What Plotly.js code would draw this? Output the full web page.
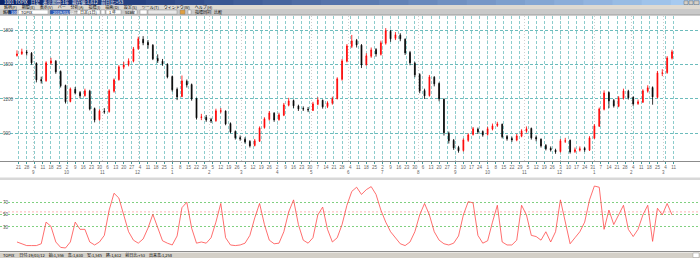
<!DOCTYPE html>
<html><head><meta charset="utf-8">
<script src="https://cdn.plot.ly/plotly-3.0.1.min.js"></script>
<style>html,body{margin:0;padding:0;background:#fff;overflow:hidden}#chart{width:700px;height:258px}</style>
</head><body><div id="chart"></div>
<script>
// ---- data (one bar = 3 trading days) ----
const openP = [1580,1596,1610,1600,1512,1370,1360,1514,1530,1440,
1318,1178,1284,1256,1230,1268,1116,1020,1092,1090,
1268,1370,1478,1500,1530,1640,1722,1694,1670,1555,
1530,1504,1396,1284,1222,1354,1326,1204,1038,1040,
1020,1010,1092,1094,985,915,862,848,828,794,
830,950,1022,1075,1020,1058,1145,1186,1138,1116,
1110,1100,1154,1188,1134,1162,1204,1372,1530,1660,
1712,1670,1502,1574,1632,1590,1688,1792,1730,1758,
1722,1606,1512,1414,1274,1230,1390,1335,1198,900,
838,776,750,838,890,936,915,890,936,968,
978,872,854,840,874,918,942,864,848,794,
768,752,740,830,838,740,752,768,752,856,
962,1110,1256,1186,1136,1206,1268,1214,1160,1172,
1268,1300,1214,1424,1432,1556];
const highP = [1625,1640,1630,1610,1520,1395,1530,1560,1540,1450,
1325,1300,1305,1270,1290,1280,1125,1110,1120,1285,
1380,1495,1525,1555,1655,1745,1750,1715,1680,1590,
1550,1512,1405,1300,1405,1370,1335,1212,1070,1060,
1035,1115,1120,1100,995,925,880,865,840,850,
960,1040,1095,1085,1080,1165,1210,1195,1150,1135,
1130,1175,1215,1195,1180,1220,1390,1550,1680,1760,
1725,1680,1600,1650,1645,1710,1820,1805,1785,1775,
1730,1620,1525,1425,1290,1410,1400,1345,1205,915,
850,790,855,900,955,950,925,955,985,1000,
985,885,870,895,935,960,950,880,855,805,
785,765,850,860,845,775,785,780,875,980,
1125,1275,1265,1200,1225,1290,1280,1222,1195,1285,
1320,1310,1445,1460,1575,1630];
const lowP = [1570,1585,1580,1500,1345,1335,1350,1500,1420,1300,
1160,1170,1240,1205,1220,1100,995,1010,1070,1080,
1255,1360,1460,1485,1520,1630,1670,1640,1540,1515,
1490,1380,1265,1190,1215,1300,1185,1020,1015,1000,
990,1000,1075,970,900,845,835,810,775,785,
825,940,1010,1000,1010,1050,1135,1120,1095,1095,
1085,1095,1145,1115,1120,1150,1195,1360,1520,1645,
1650,1470,1490,1560,1570,1580,1675,1700,1715,1705,
1585,1495,1390,1250,1200,1220,1310,1180,880,810,
755,730,740,825,880,895,870,880,925,955,
855,835,825,830,865,905,845,830,775,750,
740,720,732,815,722,728,740,738,745,850,
955,1100,1120,1125,1128,1195,1195,1140,1148,1165,
1255,1150,1205,1400,1420,1545];
const closeP = [1594,1612,1603,1516,1367,1358,1516,1533,1437,1315,
1175,1288,1253,1227,1271,1113,1017,1096,1087,1271,
1367,1481,1498,1533,1638,1726,1691,1673,1551,1533,
1507,1393,1280,1218,1358,1323,1201,1035,1043,1017,
1008,1096,1096,982,912,860,851,825,790,834,
947,1026,1078,1017,1061,1148,1183,1140,1113,1113,
1104,1157,1192,1131,1166,1201,1376,1533,1664,1708,
1673,1498,1577,1629,1594,1691,1796,1726,1761,1726,
1603,1516,1411,1271,1227,1393,1332,1201,904,834,
772,746,842,886,939,912,886,939,965,982,
869,851,842,877,921,939,860,851,790,764,
755,737,834,834,737,755,764,755,860,965,
1113,1253,1183,1140,1210,1271,1210,1157,1175,1271,
1297,1218,1428,1428,1559,1612];
const indicator = [5,2,-1,-1,-1,2,38,31,5,-4,
-5,5,38,26,26,5,0,5,16,58,
86,78,50,22,8,3,10,28,51,28,
7,3,0,15,62,71,28,3,5,3,
12,38,69,12,0,-1,0,3,16,45,
69,34,8,2,3,22,55,75,34,8,
3,12,50,63,26,5,12,34,66,89,
96,84,92,97,84,58,38,22,12,2,
-1,5,22,50,69,50,22,8,2,0,
3,15,50,72,70,16,3,7,38,66,
5,0,0,8,66,50,16,14,8,22,
5,22,75,38,2,12,22,38,75,98,
96,26,58,34,51,66,26,14,26,50,
66,6,61,50,69,50];
const priceTicks = [900,1200,1500,1800];
const indTicks = [30,50,70];
const indRefLevel = [55];
const START = [2017,7,18];       // first trading day (UTC y, m0, d)
const DAYS_PER_BAR = 3;

// ---- trading calendar for axis labels ----
const days=[]; {let d=new Date(Date.UTC(START[0],START[1],START[2]));
 while(days.length<closeP.length*DAYS_PER_BAR){const wd=d.getUTCDay(); if(wd!==0&&wd!==6) days.push(new Date(d)); d.setUTCDate(d.getUTCDate()+1);}}
const weekVals=[],weekText=[],monthVals=[],monthText=[];
days.forEach((d,k)=>{
  if(k>0 && d.getUTCDay()<days[k-1].getUTCDay()){weekVals.push(k/DAYS_PER_BAR);weekText.push(String(d.getUTCDate()));}
  if(k>0 && d.getUTCMonth()!==days[k-1].getUTCMonth()){monthVals.push(k/DAYS_PER_BAR);monthText.push(String(d.getUTCMonth()+1));}
});
const xs = closeP.map((_,i)=>i);

const H=258,W=700;
const py=v=>1-v/H, px=v=>v/W;
const shapes=[], ann=[];
const c0=[10,36,106], c1=[166,202,240];
for(let k=0;k<24;k++){const t=k/23;const c=c0.map((a,j)=>Math.round(a+(c1[j]-a)*t));
 shapes.push({type:'rect',xref:'paper',yref:'paper',x0:k/24,x1:(k+1)/24+0.002,y0:py(5),y1:1,fillcolor:`rgb(${c})`,line:{width:0},layer:'above'});}
[[684,688],[689,693],[694,699]].forEach(b=>shapes.push({type:'rect',xref:'paper',yref:'paper',x0:px(b[0]),x1:px(b[1]),y0:py(4.5),y1:py(0.8),fillcolor:'#d4d0c8',line:{color:'#555',width:0.4}}));
shapes.push({type:'rect',xref:'paper',yref:'paper',x0:0,x1:1,y0:py(9),y1:py(5),fillcolor:'#dedad2',line:{width:0}});
shapes.push({type:'rect',xref:'paper',yref:'paper',x0:0,x1:1,y0:py(15),y1:py(9),fillcolor:'#c9c9c9',line:{width:0}});
shapes.push({type:'line',xref:'paper',yref:'paper',x0:0,x1:1,y0:py(15),y1:py(15),line:{color:'#9a9a9a',width:1}});
const boxes=[[8.5,17,'#2d5bb8'],[18.5,48,'#ffffff'],[50,70,'#2d5bb8'],[77,100,'#ffffff'],[101,105,'#ffffff'],[106,121,'#ffffff'],[133,137,'#ffffff'],[140,147,'#ffffff'],[148,177,'#e8e8e8'],[180,185,'#e0a040'],[188,191,'#ffffff'],[207,211,'#ffffff']];
boxes.forEach(b=>shapes.push({type:'rect',xref:'paper',yref:'paper',x0:px(b[0]),x1:px(b[1]),y0:py(14.2),y1:py(10),fillcolor:b[2],line:{color:'#7a7a7a',width:0.4}}));
shapes.push({type:'rect',xref:'paper',yref:'paper',x0:0,x1:1,y0:py(180),y1:py(177.5),fillcolor:'#d8d8d8',line:{width:0}});
shapes.push({type:'rect',xref:'paper',yref:'paper',x0:0,x1:1,y0:0,y1:py(252.5),fillcolor:'#d4d0c8',line:{width:0}});
shapes.push({type:'rect',xref:'paper',yref:'paper',x0:px(693),x1:px(699),y0:py(257.5),y1:py(253),fillcolor:'#ffffff',line:{color:'#888',width:0.4}});
shapes.push({type:'line',xref:'paper',yref:'y2',x0:0,x1:1,y0:indRefLevel[0],y1:indRefLevel[0],line:{color:'#ffb4b4',width:1,dash:'2px,2px'},layer:'below'});

const cj='Noto Sans CJK JP, sans-serif';
const T=(x,y,text,col,size,anchor)=>ann.push({xref:'paper',yref:'paper',x:px(x),y:py(y),text,showarrow:false,xanchor:anchor||'left',yanchor:'middle',font:{family:cj,size:size||4.5,color:col||'#000'}});
T(2,2.6,'1001 TOPIX   日足   表示期間:1年   現在値:1,612   前日比:+53','#ffffff',4.5);
T(2,7,'銘柄(F)　 期間(E)　 表示(V)　 バー　 分析(A)　 指標(I)　 描画(D)　 設定(S)　 ツール(T)　 ウィンドウ(W)　 ヘルプ(H)','#000',4);
T(0.5,12.2,'銘柄','#000',4); T(9,12.2,'1001','#fff',4); T(19,12.2,'TOPIX','#000',4);
T(51,12.2,'2019/03/12','#fff',4); T(72,12.2,'─','#000',4); T(78,12.2,'日足(1日)','#000',4);
T(107,12.2,'1 年','#000',4); T(123,12.2,'Scale','#000',4); T(192.5,12.2,'指標同期','#000',4); T(212,12.2,'比較','#000',4);
T(1,255.3,'TOPIX　 日付:19/03/12　始:1,556　高:1,630　安:1,545　終:1,612　前日比:+53　出来高:1,258','#000',4);
monthVals.forEach((v,k)=>ann.push({xref:'x',yref:'paper',x:v,y:py(172),text:monthText[k],showarrow:false,xanchor:'center',yanchor:'middle',font:{family:'Liberation Sans, Arial, sans-serif',size:4.5,color:'#666'}}));

const traces=[
 {type:'candlestick',x:xs,open:openP,high:highP,low:lowP,close:closeP,xaxis:'x',yaxis:'y',
  increasing:{line:{color:'#ff0000',width:0.8},fillcolor:'#ff0000'},
  decreasing:{line:{color:'#000000',width:0.8},fillcolor:'#000000'},whiskerwidth:0,hoverinfo:'skip'},
 {type:'scatter',mode:'lines',x:xs,y:indicator,xaxis:'x2',yaxis:'y2',line:{color:'#ff4a4a',width:0.8},hoverinfo:'skip'}
];
const layout={width:W,height:H,margin:{l:0,r:0,t:0,b:0},paper_bgcolor:'#ffffff',plot_bgcolor:'#ffffff',showlegend:false,boxgap:0.75,
 font:{family:'Liberation Sans, Arial, sans-serif',size:5,color:'#444'},
 xaxis:{domain:[0,1],anchor:'y',range:[-3.5,140.77],rangeslider:{visible:false},tickmode:'array',tickvals:weekVals,ticktext:weekText,
   ticks:'outside',ticklen:2,tickcolor:'#3aa0a0',tickfont:{size:4.5,color:'#666'},showgrid:true,gridcolor:'#8ccccc',griddash:'3px,2px',gridwidth:1,
   showline:true,linecolor:'#8c8c8c',linewidth:1,zeroline:false,
   minor:{tickmode:'array',tickvals:monthVals,showgrid:true,gridcolor:'#d0d0d0',griddash:'1px,2px',gridwidth:1,ticks:''}},
 yaxis:{domain:[py(160.7),py(15.5)],anchor:'x',range:[660,1930],tickmode:'array',tickvals:priceTicks,ticktext:priceTicks.map(String),ticklabelposition:'inside',
   ticks:'',tickfont:{size:4.5,color:'#555'},showgrid:true,gridcolor:'#6cbcbc',griddash:'3px,2px',gridwidth:1,zeroline:false,showline:false},
 xaxis2:{domain:[0,1],anchor:'y2',matches:'x',showticklabels:false,ticks:'',showgrid:false,showline:true,linecolor:'#8c8c8c',linewidth:1,zeroline:false},
 yaxis2:{domain:[py(251),py(180)],anchor:'x2',range:[-10,108],tickmode:'array',tickvals:indTicks,ticktext:indTicks.map(String),ticklabelposition:'inside',
   ticks:'',tickfont:{size:4.5,color:'#555'},showgrid:true,gridcolor:'#80d080',griddash:'2px,2px',gridwidth:1,zeroline:false,showline:false},
 shapes,annotations:ann};
Plotly.newPlot('chart',traces,layout,{staticPlot:true,displayModeBar:false});
</script></body></html>
